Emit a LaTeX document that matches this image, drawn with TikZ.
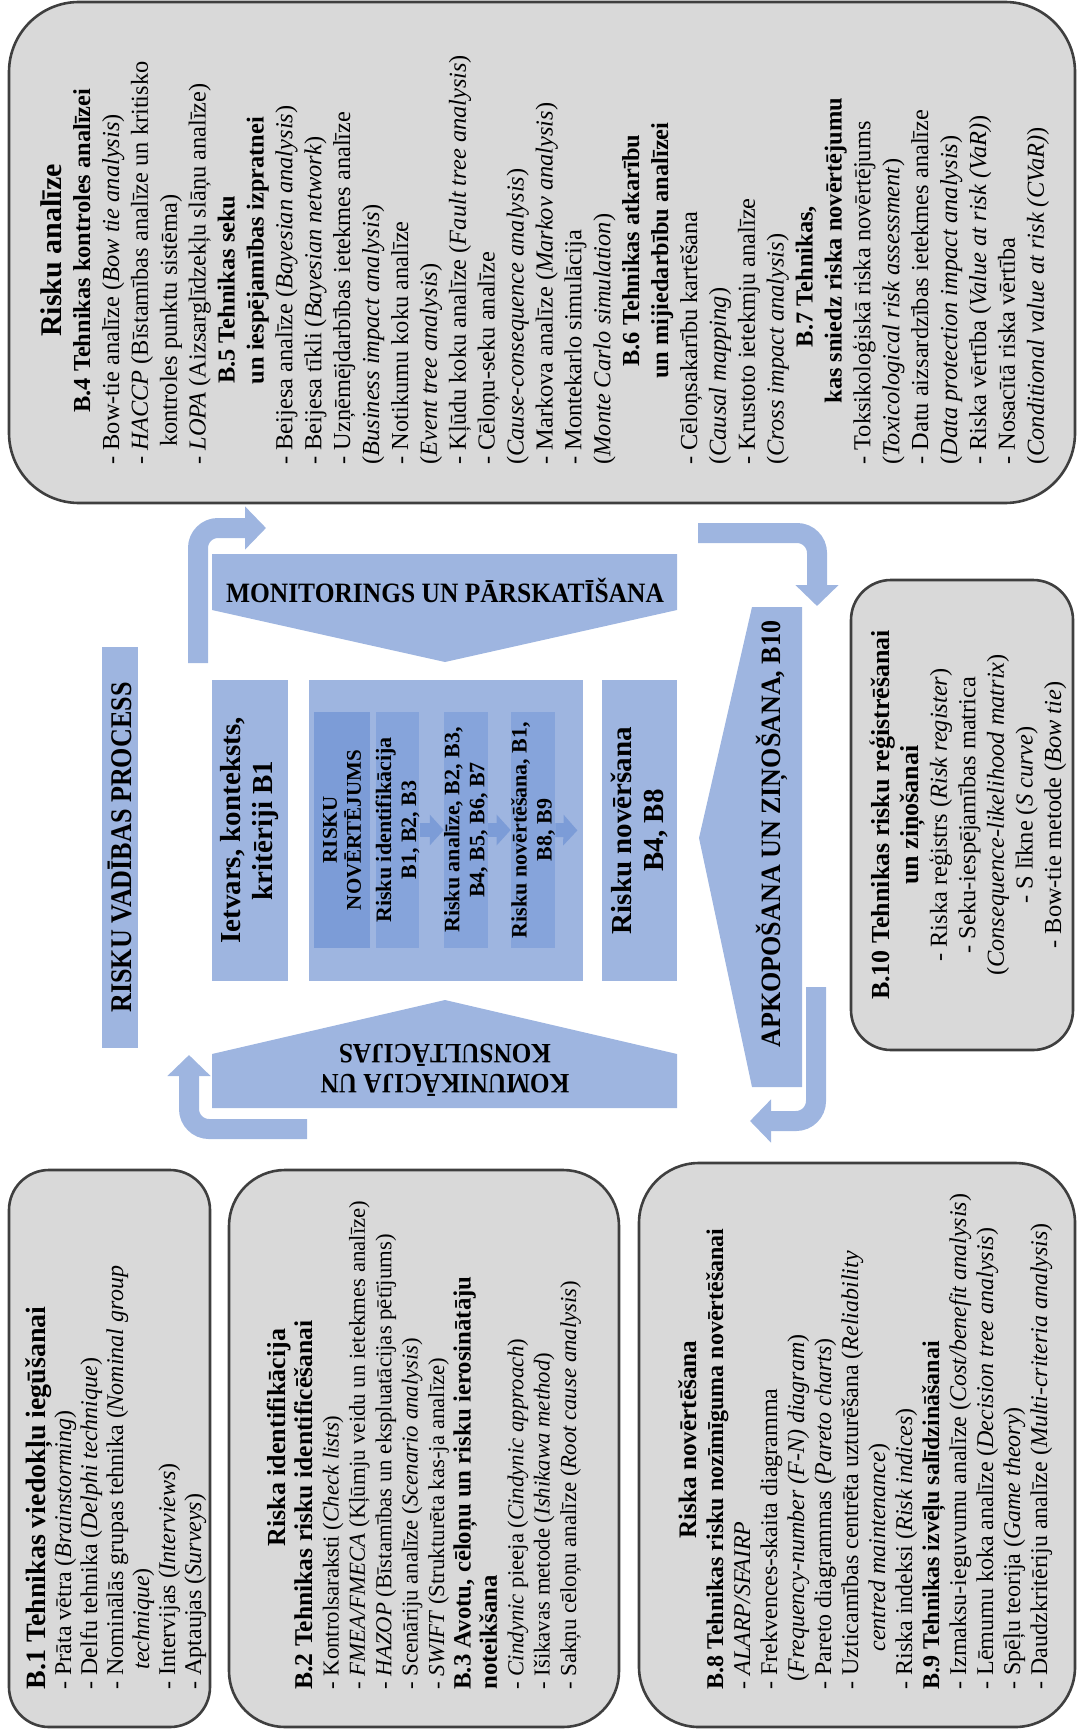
\documentclass[tikz,border=0pt]{standalone}
\usepackage{fontspec}
\usepackage{graphicx}
\setmainfont{Liberation Serif}
\usetikzlibrary{arrows.meta}

\definecolor{panelfill}{RGB}{217,217,217}
\definecolor{panelline}{RGB}{63,63,63}
\definecolor{procblue}{RGB}{158,181,224}
\definecolor{deepblue}{RGB}{124,156,215}
\definecolor{stepblue}{RGB}{134,164,219}

% English technique names
\newcommand\engl[1]{\textit{#1}}

\tikzset{
  panel/.style={draw=panelline, line width=1.3pt, fill=panelfill, inner sep=0pt},
  paneltext/.style={rotate=90, anchor=north west, inner sep=0pt, align=left},
  procbox/.style={fill=procblue, inner sep=0pt, rotate=90, align=center},
  stepbox/.style={fill=stepblue, inner sep=0pt, rotate=90, align=center,
    minimum width=118pt, minimum height=21.5pt,
    font=\fontsize{11}{12.5}\selectfont\bfseries},
  looparrow/.style={draw=procblue, line width=10pt, rounded corners=10pt,
    -{Triangle[length=10.5pt,width=21pt]}},
  steparrow/.style={draw=deepblue, line width=7pt,
    -{Triangle[length=7pt,width=15pt]}},
  bandlabel/.style={inner sep=0pt, font=\fontsize{14}{15}\selectfont\bfseries},
}

\begin{document}
\begin{tikzpicture}[x=0.5pt,y=-0.5pt]
\useasboundingbox (0,0) rectangle (1077,1733);

% ---------- grey technique panels ----------
\node[panel, rounded corners=35pt, minimum width=533pt, minimum height=250.5pt] (analysisPanel) at (542,252.5) {};
\node[panel, rounded corners=20pt, minimum width=111pt, minimum height=235pt] (registerPanel) at (962,815) {};
\node[panel, rounded corners=20pt, minimum width=100.5pt, minimum height=278.5pt] (elicitPanel) at (109.5,1448.5) {};
\node[panel, rounded corners=28pt, minimum width=195pt, minimum height=278.5pt] (identPanel) at (424,1448.5) {};
\node[panel, rounded corners=30pt, minimum width=218pt, minimum height=282pt] (evalPanel) at (857,1445) {};

% ---------- risk analysis techniques ----------
\node[paneltext, font=\fontsize{12.2}{14.45}\selectfont] (analysisText) at (40,465) {%
\makebox[214pt][c]{\bfseries\fontsize{15}{14.45}\selectfont Risku analīze}\\
\makebox[214pt][c]{\bfseries B.4 Tehnikas kontroles analīzei}\\
- Bow-tie analīze (\engl{Bow tie analysis})\\
- \engl{HACCP} (Bīstamības analīze un kritisko\\
\hspace*{9pt}kontroles punktu sistēma)\\
- \engl{LOPA} (Aizsarglīdzekļu slāņu analīze)\\
\makebox[214pt][c]{\bfseries B.5 Tehnikas seku\hspace{39pt}}\\
\makebox[214pt][c]{\bfseries un iespējamības izpratnei}\\
- Beijesa analīze (\engl{Bayesian analysis})\\
- Beijesa tīkli (\engl{Bayesian network})\\
- Uzņēmējdarbības ietekmes analīze\\
(\engl{Business impact analysis})\\
- Notikumu koku analīze\\
(\engl{Event tree analysis})\\
- Kļūdu koku analīze (\engl{Fault tree analysis})\\
- Cēloņu-seku analīze\\
(\engl{Cause-consequence analysis})\\
- Markova analīze (\engl{Markov analysis})\\
- Montekarlo simulācija\\
(\engl{Monte Carlo simulation})\\
\makebox[214pt][c]{\bfseries B.6 Tehnikas atkarību}\\
\makebox[214pt][c]{\bfseries un mijiedarbību analīzei}\\
- Cēloņsakarību kartēšana\\
(\engl{Causal mapping})\\
- Krustoto ietekmju analīze\\
(\engl{Cross impact analysis})\\
\makebox[214pt][c]{\bfseries B.7 Tehnikas,\hspace{26pt}}\\
\makebox[214pt][c]{\bfseries kas sniedz riska novērtējumu}\\
- Toksikoloģiskā riska novērtējums\\
(\engl{Toxicological risk assessment})\\
- Datu aizsardzības ietekmes analīze\\
(\engl{Data protection impact analysis})\\
- Riska vērtība (\engl{Value at risk (VaR)})\\
- Nosacītā riska vērtība\\
(\engl{Conditional value at risk (CVaR)})};

% ---------- recording and reporting ----------
\node[rotate=90, align=center, inner sep=0pt, font=\fontsize{12.2}{14.3}\selectfont] (registerText) at (968,815) {%
{\bfseries\fontsize{13}{14.3}\selectfont B.10 Tehnikas risku reģistrēšanai}\\
{\bfseries\fontsize{13}{14.3}\selectfont un ziņošanai}\\
- Riska reģistrs (\engl{Risk register})\\
- Seku-iespējamības matrica\\
(\engl{Consequence-likelihood matrix})\\
- S līkne (\engl{S curve})\\
- Bow-tie metode (\engl{Bow tie})};

% ---------- eliciting views ----------
\node[paneltext, font=\fontsize{12}{13}\selectfont] (elicitText) at (25,1690) {%
{\bfseries\fontsize{14}{13}\selectfont B.1 Tehnikas viedokļu iegūšanai}\\
- Prāta vētra (\engl{Brainstorming})\\
- Delfu tehnika (\engl{Delphi technique})\\
- Nominālās grupas tehnika (\engl{Nominal group}\\
\hspace*{10pt}\engl{technique})\\
- Intervijas (\engl{Interviews})\\
- Aptaujas (\engl{Surveys})};

% ---------- risk identification ----------
\node[paneltext, font=\fontsize{11.4}{13.2}\selectfont] (identText) at (267,1690) {%
\makebox[252pt][c]{\bfseries\fontsize{13}{13.2}\selectfont Riska identifikācija}\\
{\bfseries\fontsize{12.8}{13.2}\selectfont B.2 Tehnikas risku identificēšanai}\\
- Kontrolsaraksti (\engl{Check lists})\\
- \engl{FMEA/FMECA} (Kļūmju veidu un ietekmes analīze)\\
- \engl{HAZOP} (Bīstamības un ekspluatācijas pētījums)\\
- Scenāriju analīze (\engl{Scenario analysis})\\
- \engl{SWIFT} (Strukturēta kas-ja analīze)\\
{\bfseries\fontsize{12.4}{13.2}\selectfont B.3 Avotu, cēloņu un risku ierosinātāju}\\
{\bfseries\fontsize{12.4}{13.2}\selectfont noteikšana}\\
- \engl{Cindynic} pieeja (\engl{Cindynic approach})\\
- Išikavas metode (\engl{Ishikawa method})\\
- Sakņu cēloņu analīze (\engl{Root cause analysis})};

% ---------- risk evaluation ----------
\node[paneltext, font=\fontsize{12}{13.5}\selectfont] (evalText) at (678,1690) {%
\makebox[250pt][c]{\bfseries\fontsize{12.6}{13.5}\selectfont Riska novērtēšana}\\
\textbf{B.8 Tehnikas risku nozīmīguma novērtēšanai}\\
- \engl{ALARP/SFAIRP}\\
- Frekvences-skaita diagramma\\
\hspace*{4pt}(\engl{Frequency-number (F-N) diagram})\\
- Pareto diagrammas (\engl{Pareto charts})\\
- Uzticamības centrēta uzturēšana (\engl{Reliability}\\
\hspace*{19pt}\engl{centred maintenance})\\
- Riska indeksi (\engl{Risk indices})\\
\textbf{B.9 Tehnikas izvēļu salīdzināšanai}\\
- Izmaksu-ieguvumu analīze (\engl{Cost/benefit analysis})\\
- Lēmumu koka analīze (\engl{Decision tree analysis})\\
- Spēļu teorija (\engl{Game theory})\\
- Daudzkritēriju analīze (\engl{Multi-criteria analysis})};

% ---------- process core ----------
\node[procbox, minimum width=200.5pt, minimum height=18pt,
      font=\fontsize{15}{16}\selectfont\bfseries] (processBar) at (120,847.5)
      {\scalebox{0.87}[1]{RISKU VADĪBAS PROCESS}};

\node[procbox, minimum width=150.5pt, minimum height=38pt,
      font=\fontsize{14.5}{16}\selectfont\bfseries] (contextBox) at (250,830.5)
      {Ietvars, konteksts,\\kritēriji B1};
\node[fill=procblue, inner sep=0pt, minimum width=137pt, minimum height=150.5pt] (assessBox) at (446,830.5) {};
\node[procbox, minimum width=150.5pt, minimum height=37.5pt,
      font=\fontsize{14.5}{16}\selectfont\bfseries] (treatBox) at (639.5,830.5)
      {Risku novēršana\\B4, B8};

\node[fill=deepblue, inner sep=0pt, rotate=90, align=center,
      minimum width=118pt, minimum height=28pt,
      font=\fontsize{10.5}{12}\selectfont\bfseries] (assessTitle) at (342,830)
      {RISKU\\NOVĒRTĒJUMS};
\node[stepbox] (identStep) at (397.5,830) {Risku identifikācija\\B1, B2, B3};
\node[stepbox, minimum height=21pt] (analysisStep) at (466,830) {Risku analīze, B2, B3,\\B4, B5, B6, B7};
\node[stepbox, minimum height=21pt] (evalStep) at (533,830) {Risku novērtēšana, B1,\\B8, B9};

\draw[steparrow] (identStep.south) -- (analysisStep.north);
\draw[steparrow] (analysisStep.south) -- (evalStep.north);
\draw[steparrow, shorten >=3pt] (evalStep.south) -- (assessBox.east);

% ---------- monitoring, communication, reporting bands ----------
\fill[procblue] (212,554) -- (677,554) -- (677,610) -- (445,662) -- (212,610) -- cycle;
\node[bandlabel] (monitorLabel) at (445,590)
  {\scalebox{0.91}[1]{MONITORINGS UN PĀRSKATĪŠANA}};

\fill[procblue] (212,1108) -- (677,1108) -- (677,1054) -- (445,1000) -- (212,1054) -- cycle;
\node[bandlabel, rotate=180, align=center] (consultLabel) at (445,1070)
  {\scalebox{0.9}[1]{KOMUNIKĀCIJA UN}\\\scalebox{0.9}[1]{KONSULTĀCIJAS}};

\fill[procblue] (802,607) -- (802,1087) -- (752,1087) -- (699,838) -- (752,607) -- cycle;
\node[bandlabel, rotate=90] (reportLabel) at (772,834)
  {\scalebox{0.93}[1]{APKOPOŠANA UN ZIŅOŠANA, B10}};

% ---------- loop arrows ----------
\coordinate (tlStart) at (198,663);
\coordinate (tlEnd) at (266,528);
\draw[looparrow] (tlStart) |- (tlEnd);

\coordinate (blStart) at (307,1129);
\coordinate (blEnd) at (189,1055);
\draw[looparrow] (blStart) -| (blEnd);

\coordinate (trStart) at (698,533);
\coordinate (trEnd) at (817,606);
\draw[looparrow] (trStart) -| (trEnd);

\coordinate (brStart) at (816,987);
\coordinate (brEnd) at (750,1121);
\draw[looparrow] (brStart) |- (brEnd);

\end{tikzpicture}
\end{document}
